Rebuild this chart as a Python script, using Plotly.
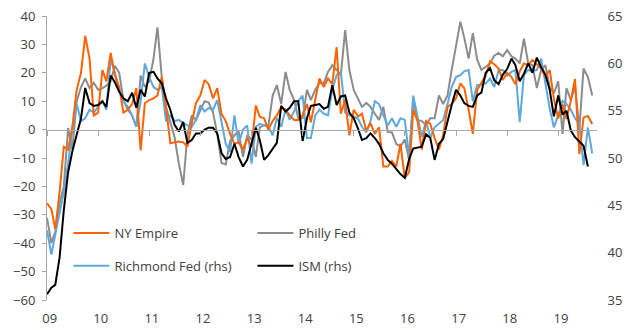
import plotly.graph_objects as go
import pandas as pd

# monthly observations, Jan 2009 .. Sep 2019
months = pd.date_range("2009-01-01", "2019-09-01", freq="MS")

ny_empire = [
    -26, -28, -35, -22, -6, -7, 1, 14, 20, 33, 25, 5,
    6, 21, 17, 27, 19, 15, 6, 7, 9, 14.6, -7.3, 9.3,
    10.4, 11, 12, 18.5, 8, -4.8, -4.5, -4.2, -4.5, -6, 2.3, 9.3,
    12, 17.5, 16, 11, 14.6, 5.5, 3, -1.5, -5, -4.5, -7, -3,
    -6, 8.5, 4.5, 4, 0, 3, 5, 8, 7, 5, 3.4, 3.4,
    5, 9, 2.6, 10.4, 18, 15, 18, 16, 29, 5.6, 10.4, -2,
    7, 4.6, 5.6, -0.4, 2.3, -1.5, 0.8, -13, -13, -11, -13, -5,
    -17, -15, 7, 3, -7, 3, 2, -3, -7, -2, 8, 9,
    11, 16.3, 14.6, 7, -1.5, 14, 16.3, 19, 24, 23, 21.5, 17.5,
    20, 18.5, 16, 20.5, 23.3, 22.7, 24.5, 23, 21.5, 18.5, 21, 10.9,
    3.9, 8.8, 3.7, 10.1, 17.8, -8.6, 4.3, 4.8, 2.0,
]

philly_fed = [
    -31, -40, -36, -26, -20, 0.5, -7, 10, 15, 18, 14.6, 16.5,
    14, 14.5, 15.5, 17, 22.5, 20, 10.4, 7, 5, 1, 19, 15,
    17, 25, 36, 18.5, 8, 3, -2.6, -12, -19.5, -2, 5, 3.4,
    7, 10, 9.5, 6, -1.5, -11.8, -12.3, -4, -2, -0.6, -9.6, -2,
    -3.5, -9.6, 0.8, 1.6, 1.2, 12, 15.7, 9, 20.3, 14, 10.4, 4,
    4, 14, 10.4, 14, 16.3, 16.3, 20.3, 22.7, 21, 19.2, 35, 21,
    14, 11, 8, 9.4, 8, 5.6, 3.4, 8, -0.8, -1, -5, -6,
    -3.5, -10.7, 10, 3.4, 3, 1.6, 4, 4, 12, 9, 12, 21,
    29, 38, 32.3, 25, 34, 24.6, 21, 22, 23.3, 26, 27, 25.8,
    28, 25.8, 25, 23.3, 32, 23.3, 22.7, 14.6, 21, 22.7, 15, 12.8,
    17, -1.5, 14.6, 10.4, 15.1, 0.3, 21.5, 18.5, 12,
]

richmond_fed = [
    -35.4, -44, -37, -29, -22, -12, 0, 9, 3, 4, 7, 6,
    8, 10, 7, 25, 20, 14, 10, 8, 5, 1, 10, 23.3,
    18.5, 15, 14, 15, 3, 5, 3, 3.4, 2.3, 1.5, 1, 3.4,
    8.6, 6.4, 7.6, 7, 10.4, 3, -5, -7.8, 5, -5, 0, 1.5,
    -12, 1, 2, 1.5, 1, -2, 4, 1, 7, 3.5, 6.4, 10,
    12, -3, -3, 5, 7, 5.6, 5, 14, 19.2, 20.3, 6, 5,
    4.6, 3.8, 1, -1, 3, 10, 9, 5, 1.5, 4, 1, 4,
    3.4, -9.6, 12, 4.5, -2.6, 3, -3, 0.8, 2, 3.4, 9, 15,
    18.5, 19.2, 20.5, 21, 10, 15.7, 15.7, 16.3, 18, 15, 21, 21,
    19, 20.3, 21, 2.6, 19.2, 21, 20.5, 21, 25, 16.3, 7.4, 0.8,
    5, 10, 9, 7, 4, 2, -12.5, 0.8, -8.4,
]

ism = [
    35.6, 36.3, 36.6, 39.5, 44.5, 48.5, 50.7, 52.6, 54.2, 57.4, 55.8, 55.5,
    55.6, 56.0, 55.4, 58.7, 58.0, 57.0, 56.3, 56.0, 56.9, 55.3, 57.2, 56.5,
    59.0, 59.1, 58.4, 57.9, 56.3, 55.1, 53.5, 52.8, 53.8, 51.6, 51.9, 52.6,
    52.6, 53.0, 53.2, 53.2, 52.6, 50.5, 49.9, 50.1, 51.5, 50.1, 49.1, 49.8,
    51.5, 53.2, 51.9, 49.8, 50.3, 51.0, 51.6, 55.5, 54.9, 55.3, 56.0, 56.0,
    51.8, 54.2, 55.5, 55.6, 55.7, 55.2, 55.4, 57.7, 55.6, 56.5, 56.6, 54.8,
    54.2, 53.1, 51.9, 52.1, 52.6, 52.1, 51.5, 50.5, 49.8, 49.4, 48.8, 48.3,
    47.9, 49.9, 51.0, 51.1, 51.2, 52.5, 52.1, 49.8, 51.5, 52.0, 54.0, 55.6,
    57.2, 56.6, 55.8, 55.5, 55.4, 56.6, 56.9, 59.0, 59.5, 58.2, 57.8, 58.8,
    59.4, 60.5, 59.8, 58.1, 58.9, 60.0, 59.0, 60.6, 59.6, 58.8, 57.2, 54.4,
    56.6, 54.6, 55.0, 52.9, 52.2, 51.7, 51.3, 49.1,
]

year_labels = ["09", "10", "11", "12", "13", "14", "15", "16", "17", "18", "19"]
year_starts = [f"20{y}-01-01" for y in year_labels]
label_pos = [f"20{y}-01-20" for y in year_labels]

FONT = "Open Sans"
TXT = "#404040"
AX = "#A6A6A6"

fig = go.Figure()
fig.add_trace(go.Scatter(x=months, y=philly_fed, name="Philly Fed", mode="lines",
                         line=dict(color="#8C8C8C", width=2), legend="legend", legendrank=2))
fig.add_trace(go.Scatter(x=months, y=richmond_fed, name="Richmond Fed (rhs)", mode="lines",
                         line=dict(color="#5EA8DE", width=2), legend="legend2", legendrank=1))
fig.add_trace(go.Scatter(x=months, y=ny_empire, name="NY Empire", mode="lines",
                         line=dict(color="#FF6200", width=2), legend="legend", legendrank=1))
fig.add_trace(go.Scatter(x=months[:len(ism)], y=ism, name="ISM (rhs)", mode="lines",
                         line=dict(color="#000000", width=2), yaxis="y2",
                         legend="legend2", legendrank=2))
# carrier for the zero-line axis with tick marks
fig.add_trace(go.Scatter(x=[months[0]], y=[None], xaxis="x2", yaxis="y",
                         showlegend=False, hoverinfo="skip"))

xr = ["2009-01-01", "2019-10-05"]
leg = dict(orientation="h", bgcolor="rgba(0,0,0,0)", font=dict(family=FONT, size=13, color=TXT),
           entrywidth=133, entrywidthmode="pixels", xanchor="left", yanchor="middle",
           itemwidth=36, traceorder="normal")

fig.update_layout(
    width=640, height=330,
    margin=dict(l=47, r=43, t=16, b=30),
    paper_bgcolor="white", plot_bgcolor="white",
    font=dict(family=FONT, size=13, color=TXT),
    showlegend=True,
    legend=dict(leg, x=0.039, y=0.236),
    legend2=dict(leg, x=0.039, y=0.12),
    xaxis=dict(type="date", range=xr, tickmode="array", tickvals=label_pos, ticktext=year_labels,
               showline=False, showgrid=False, zeroline=False, ticks="outside", ticklen=6,
               tickcolor="rgba(0,0,0,0)", automargin=False, tickfont=dict(size=13, color=TXT)),
    xaxis2=dict(type="date", range=xr, overlaying="x", anchor="free", position=0.6,
                tickmode="array", tickvals=year_starts, showticklabels=False,
                showline=True, linecolor=AX, linewidth=1, ticks="outside", ticklen=5,
                tickcolor=AX, showgrid=False, zeroline=False, automargin=False),
    yaxis=dict(range=[-60, 40], dtick=10, showline=True, linecolor=AX, linewidth=1,
               ticks="outside", ticklen=4, tickcolor=AX, showgrid=False, zeroline=False,
               ticklabelstandoff=4,
               automargin=False, tickfont=dict(size=13, color=TXT)),
    yaxis2=dict(range=[35, 65], dtick=5, overlaying="y", side="right", showgrid=False,
                showline=False, zeroline=False, ticks="outside", ticklen=7,
                tickcolor="rgba(0,0,0,0)", automargin=False, tickfont=dict(size=13, color=TXT)),
)

fig.write_html("out.html")
